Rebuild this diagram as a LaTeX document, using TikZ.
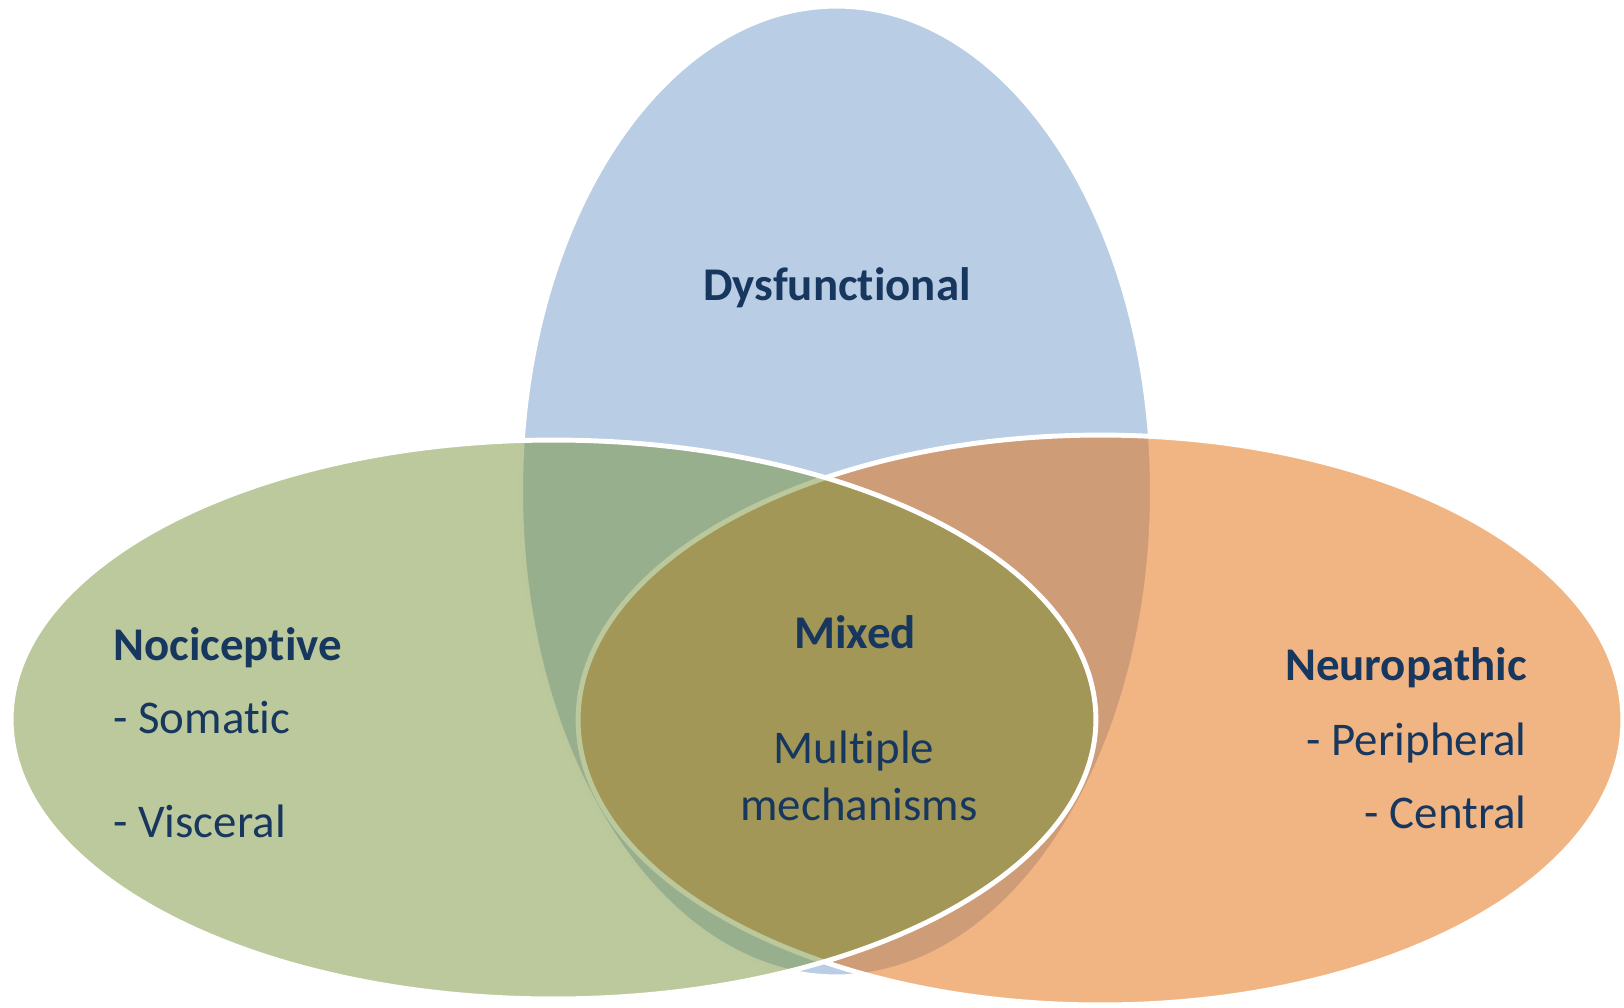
\documentclass[tikz,border=0pt]{standalone}
\usepackage{fontspec}
\setmainfont{Carlito}[Ligatures={NoCommon,NoContextual}]
\usetikzlibrary{shapes.geometric}

\definecolor{dysblue}{HTML}{B9CDE5}
\definecolor{nocigreen}{HTML}{799339}
\definecolor{neurorange}{HTML}{E46C0A}
\definecolor{navy}{HTML}{17375E}

\tikzset{
  venn/.style={ellipse, draw=white, line width=2.8pt, inner sep=0pt, outer sep=0pt},
  lbl/.style={text=navy, inner sep=0pt, font=\fontsize{26.7}{32.6}\selectfont},
  head/.style={lbl, font=\fontsize{26.7}{32.6}\selectfont\bfseries}
}

\begin{document}
\begin{tikzpicture}[x=0.02cm, y=-0.02cm]
  \useasboundingbox (0,0) rectangle (1624,1008);

  % the three overlapping sets, drawn back to front
  \node[venn, fill=dysblue, minimum width=12.64cm, minimum height=19.42cm]
    (dys) at (836.5,491.5) {};
  \node[venn, fill=neurorange, fill opacity=0.5, minimum width=20.9cm, minimum height=11.4cm]
    (neu) at (1100.5,720) {};
  \node[venn, fill=nocigreen, fill opacity=0.5, minimum width=21.7cm, minimum height=11.18cm]
    (noc) at (553.5,719.5) {};

  % labels
  \node[head, anchor=base] (tdys) at (837,300) {Dysfunctional};
  \node[head, anchor=base] (tmix) at (855,648) {Mixed};
  \node[lbl, anchor=base] (tmul) at (854,763) {Multiple};
  \node[lbl, anchor=base] (tmec) at (859,820) {mechanisms};

  \node[head, anchor=base west] (tnoc) at (113,660) {Nociceptive};
  \node[lbl, anchor=base west] (tsom) at (113,733) {- Somatic};
  \node[lbl, anchor=base west] (tvis) at (113,837) {- Visceral};

  \node[head, anchor=base east] (tneu) at (1527,680) {Neuropathic};
  \node[lbl, anchor=base east] (tper) at (1527,755) {- Peripheral};
  \node[lbl, anchor=base east] (tcen) at (1527,828) {- Central};
\end{tikzpicture}
\end{document}
